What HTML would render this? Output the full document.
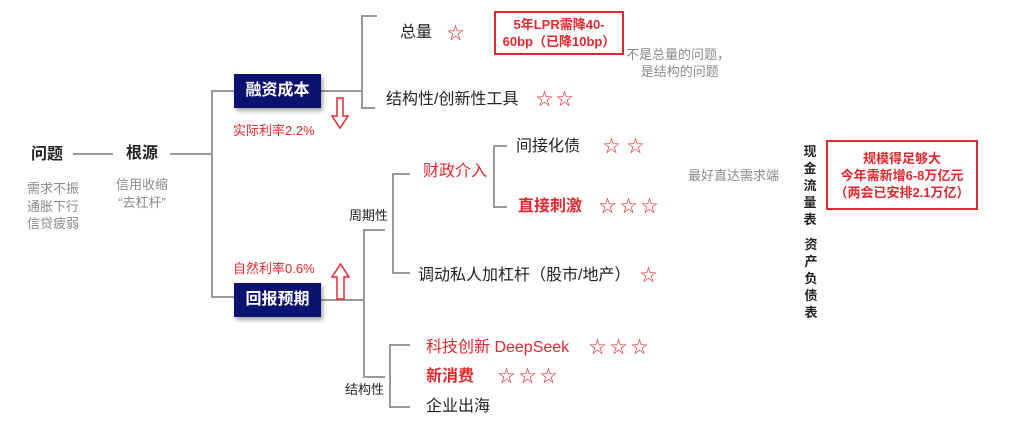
<!DOCTYPE html>
<html><head><meta charset="utf-8"><style>
html,body{margin:0;padding:0;background:#fff;}
body{width:1024px;height:427px;position:relative;overflow:hidden;font-family:"Liberation Sans","Noto Sans CJK SC",sans-serif;}
.t{position:absolute;white-space:nowrap;line-height:1;color:#222;font-size:16px;}
.r{color:#e0282e;}
.g{color:#8a8a8a;font-size:13px;}
.b{font-weight:bold;}
.box{position:absolute;background:#0c1270;color:#fff;font-weight:bold;font-size:16px;text-align:center;box-shadow:2px 3px 4px rgba(0,0,0,.35);}
.rb{position:absolute;border:2px solid #e0282e;color:#e0282e;text-align:center;font-size:13px;line-height:17px;box-sizing:border-box;font-weight:bold;}
.v{position:absolute;width:14px;font-size:13px;line-height:17px;color:#222;font-weight:bold;text-align:center;}
</style></head><body>
<svg width="1024" height="427" style="position:absolute;left:0;top:0" fill="none" stroke="#999" stroke-width="2">
<line x1="73" y1="154" x2="113" y2="154"/>
<line x1="170" y1="154" x2="212" y2="154"/>
<polyline points="234,91 212,91 212,297 234,297"/>
<line x1="321" y1="91" x2="362" y2="91"/>
<polyline points="377,16 362,16 362,108 375,108"/>
<line x1="321" y1="300" x2="364" y2="300"/>
<polyline points="385,230 364,230 364,377 385,377"/>
<polyline points="410,174 393,174 393,273 410,273"/>
<polyline points="507,146 494,146 494,207 507,207"/>
<polyline points="410,345 390,345 390,407 410,407"/>
<path d="M337 98 H343 V116 H348 L340 128 L332 116 H337 Z" stroke="#e0282e" stroke-width="1.5"/>
<path d="M337 299 H344 V277 H349 L340.5 264 L332 277 H337 Z" stroke="#e0282e" stroke-width="1.5"/>
</svg>

<div class="t b" style="left:31px;top:147px;font-size:16px">问题</div>
<div class="t b" style="left:126px;top:146px;font-size:16px">根源</div>
<div class="t g" style="left:27px;top:180px;line-height:17.5px">需求不振<br>通胀下行<br>信贷疲弱</div>
<div class="t g" style="left:116px;top:176px;line-height:18px;text-align:center">信用收缩<br>“去杠杆”</div>

<div class="box" style="left:234px;top:74px;width:87px;height:34px;line-height:34px">融资成本</div>
<div class="t r" style="left:233px;top:124px;font-size:13px">实际利率2.2%</div>
<div class="box" style="left:234px;top:283px;width:87px;height:34px;line-height:34px">回报预期</div>
<div class="t r" style="left:233px;top:262px;font-size:13px">自然利率0.6%</div>

<div class="t" style="left:400px;top:25px">总量</div>
<div class="t r" style="left:447px;top:25px;font-size:17px">☆</div>
<div class="rb" style="left:494px;top:11px;width:130px;height:44px;padding-top:3px">5年LPR需降40-<br>60bp（已降10bp）</div>
<div class="t g" style="left:626px;top:46px;line-height:17px;text-align:center">不是总量的问题，<br>&nbsp;是结构的问题</div>
<div class="t" style="left:386px;top:92px">结构性/创新性工具</div>
<div class="t r" style="left:536px;top:91px;font-size:17px;letter-spacing:3px">☆☆</div>

<div class="t" style="left:349px;top:209px;font-size:13px">周期性</div>
<div class="t r" style="left:423px;top:164px">财政介入</div>
<div class="t" style="left:516px;top:139px">间接化债</div>
<div class="t r" style="left:603px;top:138px;font-size:17px;letter-spacing:7px">☆☆</div>
<div class="t r b" style="left:518px;top:199px">直接刺激</div>
<div class="t r" style="left:599px;top:198px;font-size:17px;letter-spacing:4px">☆☆☆</div>
<div class="t g" style="left:688px;top:169px">最好直达需求端</div>
<div class="t" style="left:418px;top:268px">调动私人加杠杆（股市/地产）</div>
<div class="t r" style="left:640px;top:267px;font-size:17px">☆</div>

<div class="t" style="left:345px;top:383px;font-size:13px">结构性</div>
<div class="t r" style="left:426px;top:340px">科技创新 DeepSeek</div>
<div class="t r" style="left:589px;top:339px;font-size:17px;letter-spacing:4px">☆☆☆</div>
<div class="t r b" style="left:426px;top:369px">新消费</div>
<div class="t r" style="left:498px;top:368px;font-size:17px;letter-spacing:4px">☆☆☆</div>
<div class="t" style="left:426px;top:399px">企业出海</div>

<div class="v" style="left:803px;top:143px">现<br>金<br>流<br>量<br>表</div>
<div class="v" style="left:804px;top:236px">资<br>产<br>负<br>债<br>表</div>
<div class="rb" style="left:826px;top:140px;width:152px;height:70px;padding-top:8px">规模得足够大<br>今年需新增6-8万亿元<br>（两会已安排2.1万亿）</div>
</body></html>
